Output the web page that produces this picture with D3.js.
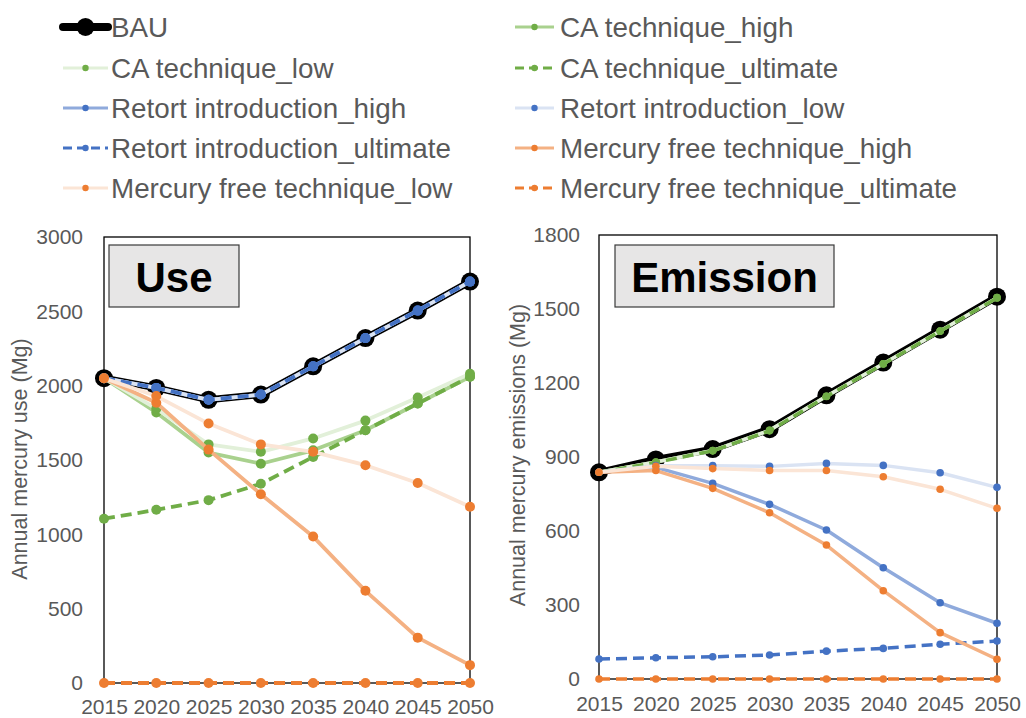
<!DOCTYPE html>
<html>
<head>
<meta charset="utf-8">
<script src="https://cdn.jsdelivr.net/npm/d3@7"></script>
<style>
  body { margin: 0; background: #fff; }
  svg { display: block; font-family: Arial, "Liberation Sans", sans-serif; }
</style>
</head>
<body>
<svg id="chart" width="1026" height="718"></svg>
<script>
const years = [2015, 2020, 2025, 2030, 2035, 2040, 2045, 2050];

// Use (Mg)
const useBAU = [2050, 1985, 1905, 1940, 2130, 2320, 2505, 2700];
const useCAHigh = [2050, 1820, 1550, 1475, 1565, 1700, 1880, 2060];
const useCALow = [2050, 1845, 1605, 1555, 1645, 1765, 1920, 2080];
const useCAUlt = [1105, 1165, 1230, 1340, 1520, 1700, 1880, 2060];
const useRetHigh = [2050, 1985, 1905, 1940, 2130, 2320, 2505, 2700];
const useRetLow = [2050, 1985, 1905, 1940, 2130, 2320, 2505, 2700];
const useRetUlt = [2050, 1985, 1905, 1940, 2130, 2320, 2505, 2700];
const useMFHigh = [2050, 1885, 1570, 1270, 985, 620, 305, 120];
const useMFLow = [2050, 1930, 1745, 1605, 1555, 1465, 1345, 1185];
const useMFUlt = [0, 0, 0, 0, 0, 0, 0, 0];

// Emission (Mg)
const emBAU = [838, 890, 932, 1013, 1150, 1283, 1416, 1550];
const emCAHigh = [838, 880, 926, 1008, 1146, 1278, 1411, 1546];
const emCALow = [838, 880, 926, 1008, 1146, 1278, 1411, 1546];
const emCAUlt = [838, 878, 925, 1006, 1145, 1277, 1410, 1545];
const emRetHigh = [838, 858, 793, 708, 604, 451, 309, 226];
const emRetLow = [838, 865, 865, 862, 874, 866, 836, 777];
const emRetUlt = [81, 86, 90, 97, 113, 124, 141, 154];
const emMFHigh = [838, 845, 773, 674, 543, 358, 188, 80];
const emMFLow = [838, 862, 853, 845, 845, 820, 769, 692];
const emMFUlt = [0, 0, 0, 0, 0, 0, 0, 0];

const useTicks = [0, 500, 1000, 1500, 2000, 2500, 3000];
const emTicks = [0, 300, 600, 900, 1200, 1500, 1800];

// series styles, in drawing order (later on top)
const seriesStyles = [
  { name: "BAU", line: "#000", marker: "#000", dash: null, bau: true },
  { name: "CA technique_high", line: "#A9D18E", marker: "#70AD47", dash: null },
  { name: "CA technique_low", line: "#E2F0D9", marker: "#70AD47", dash: null },
  { name: "CA technique_ultimate", line: "#70AD47", marker: "#70AD47", dash: "11,6" },
  { name: "Retort introduction_high", line: "#8FAADC", marker: "#4472C4", dash: null },
  { name: "Retort introduction_low", line: "#DAE3F3", marker: "#4472C4", dash: null },
  { name: "Retort introduction_ultimate", line: "#4472C4", marker: "#4472C4", dash: "11,6" },
  { name: "Mercury free technique_high", line: "#F4B183", marker: "#ED7D31", dash: null },
  { name: "Mercury free technique_low", line: "#FBE5D6", marker: "#ED7D31", dash: null },
  { name: "Mercury free technique_ultimate", line: "#ED7D31", marker: "#ED7D31", dash: "11,6" },
];

const useSeries = [useBAU, useCAHigh, useCALow, useCAUlt, useRetHigh, useRetLow, useRetUlt, useMFHigh, useMFLow, useMFUlt];
const emSeries = [emBAU, emCAHigh, emCALow, emCAUlt, emRetHigh, emRetLow, emRetUlt, emMFHigh, emMFLow, emMFUlt];

const svg = d3.select("#chart");
const textColor = "#595959";

function drawPanel(opts) {
  const { x0, x1, yTop, yBottom, max, ticks, series, title, box, yTitle, yTitleX, r, lw } = opts;
  const x = d3.scaleLinear().domain([2015, 2050]).range([x0, x1]);
  const y = d3.scaleLinear().domain([0, max]).range([yBottom, yTop]);
  const g = svg.append("g");

  // y axis labels
  const yAxis = g.append("g")
    .attr("transform", `translate(${x0},0)`)
    .call(d3.axisLeft(y).tickValues(ticks).tickFormat(d3.format("d")).tickSize(0).tickPadding(opts.yPad));
  yAxis.select(".domain").remove();
  yAxis.selectAll("text").attr("fill", textColor).style("font-size", "21px")
    .style("font-family", "Arial, 'Liberation Sans', sans-serif");

  // x axis labels
  const xAxis = g.append("g")
    .attr("transform", `translate(0,${yBottom})`)
    .call(d3.axisBottom(x).tickValues(years).tickFormat(d3.format("d")).tickSize(0).tickPadding(opts.xPad));
  xAxis.select(".domain").remove();
  xAxis.selectAll("text").attr("fill", textColor).style("font-size", "21px")
    .style("font-family", "Arial, 'Liberation Sans', sans-serif");

  // plot frame
  g.append("rect")
    .attr("x", x0).attr("y", yTop)
    .attr("width", x1 - x0).attr("height", yBottom - yTop)
    .attr("fill", "none").attr("stroke", "#000").attr("stroke-width", 1.3);

  // y title
  g.append("text")
    .attr("transform", `translate(${yTitleX},${opts.yTitleY}) rotate(-90)`)
    .attr("text-anchor", "middle")
    .attr("dominant-baseline", "central")
    .attr("fill", textColor)
    .style("font-size", "21.5px")
    .text(yTitle);

  // title box
  g.append("rect")
    .attr("x", box[0]).attr("y", box[1]).attr("width", box[2]).attr("height", box[3])
    .attr("fill", "#E7E6E6").attr("stroke", "#3a3a3a").attr("stroke-width", 1.2);
  g.append("text")
    .attr("x", box[0] + box[2] / 2).attr("y", box[1] + box[3] / 2 + 1)
    .attr("text-anchor", "middle").attr("dominant-baseline", "central")
    .style("font-size", "42px").style("font-weight", "bold")
    .attr("fill", "#000")
    .text(title);

  const line = d3.line().x((d, i) => x(years[i])).y((d) => y(d));

  series.forEach((vals, i) => {
    const s = seriesStyles[i];
    const sg = g.append("g");
    sg.append("path")
      .datum(vals)
      .attr("d", line)
      .attr("fill", "none")
      .attr("stroke", s.line)
      .attr("stroke-width", s.bau ? 7 : lw)
      .attr("stroke-linejoin", "round")
      .attr("stroke-dasharray", s.dash);
    sg.selectAll("circle")
      .data(vals)
      .join("circle")
      .attr("cx", (d, j) => x(years[j]))
      .attr("cy", (d) => y(d))
      .attr("r", s.bau ? 9 : r)
      .attr("fill", s.marker);
  });
}

drawPanel({
  x0: 104, x1: 470, yTop: 237, yBottom: 683, max: 3000, ticks: useTicks,
  series: useSeries, title: "Use", box: [109, 245, 130, 62],
  yTitle: "Annual mercury use (Mg)", yTitleX: 20, yTitleY: 459, yPad: 21, xPad: 16, r: 5, lw: 3.8,
});

drawPanel({
  x0: 599, x1: 997, yTop: 235, yBottom: 679, max: 1800, ticks: emTicks,
  series: emSeries, title: "Emission", box: [615, 245, 219, 62],
  yTitle: "Annual mercury emissions (Mg)", yTitleX: 518, yTitleY: 455, yPad: 19, xPad: 17, r: 3.8, lw: 3.5,
});

// legend, two columns, row-major
const legend = svg.append("g");
const legendRows = [27, 68, 108, 148, 188];
const legendCols = [{ s0: 63, s1: 108, tx: 111 }, { s0: 515, s1: 554, tx: 560 }];
seriesStyles.forEach((s, i) => {
  const col = legendCols[i % 2];
  const cy = legendRows[Math.floor(i / 2)];
  const lg = legend.append("g");
  lg.append("line")
    .attr("x1", col.s0).attr("x2", col.s1).attr("y1", cy).attr("y2", cy)
    .attr("stroke", s.line).attr("stroke-width", s.bau ? 8 : 3)
    .attr("stroke-linecap", s.bau ? "round" : "butt")
    .attr("stroke-dasharray", s.dash ? "9,5" : null);
  lg.append("circle")
    .attr("cx", (col.s0 + col.s1) / 2).attr("cy", cy)
    .attr("r", s.bau ? 9 : 3.2).attr("fill", s.marker);
  lg.append("text")
    .attr("x", col.tx).attr("y", cy).attr("dominant-baseline", "central")
    .attr("fill", textColor).style("font-size", "27.8px")
    .text(s.name);
});
</script>
</body>
</html>
